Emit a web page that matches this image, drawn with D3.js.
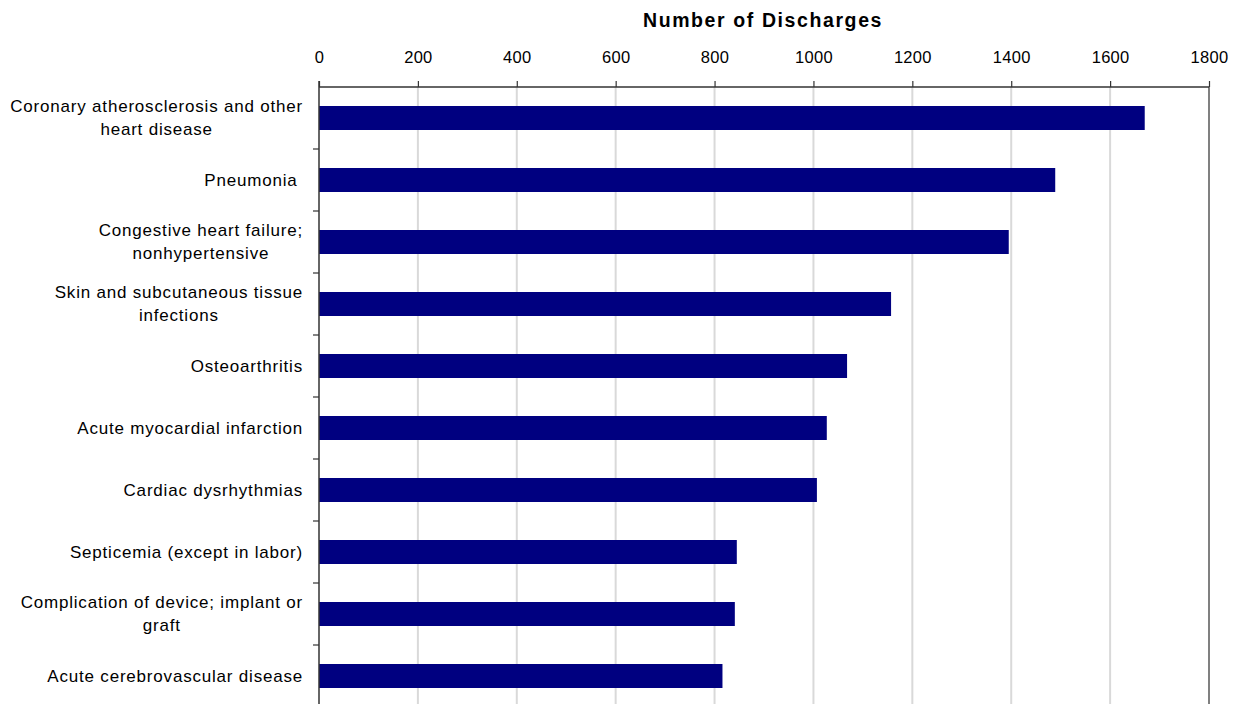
<!DOCTYPE html>
<html>
<head>
<meta charset="utf-8">
<script src="https://cdn.jsdelivr.net/npm/d3@7"></script>
<style>
  html, body { margin: 0; padding: 0; background: #fff; }
  svg { display: block; font-family: "Liberation Sans", Arial, sans-serif; }
</style>
</head>
<body>
<svg id="chart" width="1234" height="704"></svg>
<script>
// Hospital discharges by principal diagnosis
const categories = [
  ["Coronary atherosclerosis and other", "heart disease"],
  ["Pneumonia\u00a0"],
  ["Congestive heart failure;", "nonhypertensive"],
  ["Skin and subcutaneous tissue", "infections"],
  ["Osteoarthritis"],
  ["Acute myocardial infarction"],
  ["Cardiac dysrhythmias"],
  ["Septicemia (except in labor)"],
  ["Complication of device; implant or", "graft"],
  ["Acute cerebrovascular disease"]
];
const discharges = [1670, 1489, 1395, 1157, 1068, 1027, 1007, 845, 841, 816];
const tickValues = [0, 200, 400, 600, 800, 1000, 1200, 1400, 1600, 1800];
const axisTitle = "Number of Discharges";

const svg = d3.select("#chart");
const plotLeft = 319, plotRight = 1209, plotTop = 87, band = 62;
const plotBottom = plotTop + band * categories.length;

const x = d3.scaleLinear().domain([0, 1800]).range([plotLeft, plotRight]);
const y = d3.scaleBand().domain(d3.range(categories.length)).range([plotTop, plotBottom]).paddingInner(0).paddingOuter(0);
const barH = 24;

// vertical gridlines
svg.append("g").selectAll("line").data(tickValues.filter(v => v > 0 && v < 1800)).join("line")
  .attr("x1", d => x(d)).attr("x2", d => x(d))
  .attr("y1", plotTop).attr("y2", plotBottom)
  .attr("stroke", "#d9d9d9").attr("stroke-width", 2);

// right plot border
svg.append("line").attr("x1", plotRight).attr("x2", plotRight).attr("y1", plotTop).attr("y2", plotBottom)
  .attr("stroke", "#808080").attr("stroke-width", 2);

// bars
svg.append("g").selectAll("rect").data(discharges).join("rect")
  .attr("x", x(0))
  .attr("y", (d, i) => y(i) + (band - barH) / 2)
  .attr("width", d => x(d) - x(0))
  .attr("height", barH)
  .attr("fill", "#000080");

// top value axis
const xAxis = d3.axisTop(x).tickValues(tickValues).tickSize(6).tickPadding(18).tickFormat(d3.format("d"));
const gx = svg.append("g").attr("transform", `translate(0,${plotTop})`).call(xAxis);
gx.select(".domain").attr("stroke", "#333").attr("stroke-width", 1.5).attr("d", `M${plotLeft},0H${plotRight}`);
gx.selectAll(".tick line").attr("stroke", "#333").attr("stroke-width", 1.2);
gx.selectAll(".tick text").attr("font-size", 16.5).attr("fill", "#000").attr("letter-spacing", 0.3)
  .attr("font-family", "'Liberation Sans', Arial, sans-serif");

// left category axis
svg.append("line").attr("x1", plotLeft).attr("x2", plotLeft).attr("y1", plotTop - 6).attr("y2", plotBottom)
  .attr("stroke", "#333").attr("stroke-width", 1.5);
svg.append("g").selectAll("line").data(d3.range(1, categories.length + 1)).join("line")
  .attr("x1", plotLeft - 6).attr("x2", plotLeft)
  .attr("y1", d => plotTop + d * band).attr("y2", d => plotTop + d * band)
  .attr("stroke", "#333").attr("stroke-width", 1.2);

// category labels, wrapped lines centred on each other
const lineH = 23;
const lab = svg.append("g").selectAll("text").data(categories).join("text")
  .attr("font-size", 17).attr("fill", "#000").attr("letter-spacing", 0.8)
  .style("white-space", "pre");
lab.each(function(lines, i) {
  const t = d3.select(this);
  const cy = y(i) + band / 2;
  const y0 = cy - (lines.length - 1) * lineH / 2;
  lines.forEach((s, k) => {
    t.append("tspan").text(s).attr("y", y0 + k * lineH).attr("dy", "0.35em");
  });
});
// right-align each label block, centre its lines within it
lab.each(function() {
  const spans = d3.select(this).selectAll("tspan").nodes();
  const w = d3.max(spans.map(n => n.getComputedTextLength()));
  const rightEdge = 303;
  spans.forEach(n => {
    d3.select(n).attr("x", rightEdge - w / 2).attr("text-anchor", "middle");
  });
});

// axis title
svg.append("text").attr("x", (plotLeft + plotRight) / 2 - 1).attr("y", 27)
  .attr("text-anchor", "middle").attr("font-size", 19.5).attr("font-weight", "bold")
  .attr("letter-spacing", 1.6)
  .text(axisTitle);
</script>
</body>
</html>
